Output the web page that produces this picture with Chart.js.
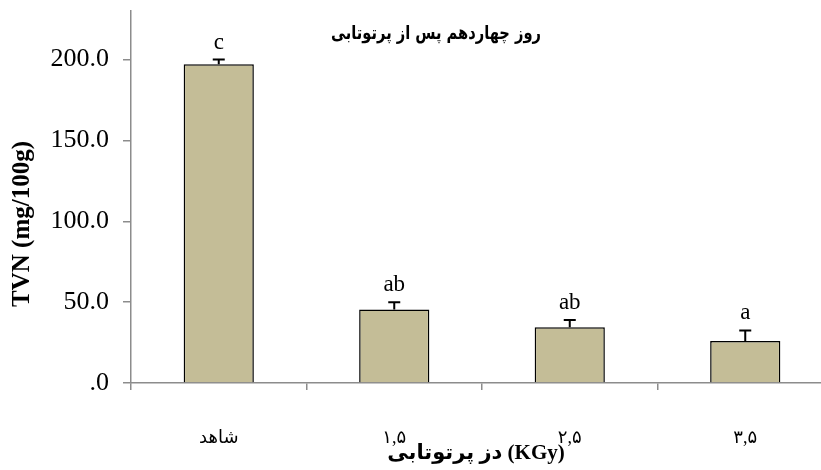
<!DOCTYPE html>
<html>
<head>
<meta charset="utf-8">
<script src="https://cdn.jsdelivr.net/npm/chart.js@4"></script>
<style>
  html, body { margin: 0; padding: 0; background: #fff; overflow: hidden; }
  #wrap { width: 821px; height: 470px; overflow: hidden; }
  #box { width: 840px; height: 470px; }
</style>
</head>
<body>
<div id="wrap"><div id="box"><canvas id="chart"></canvas></div></div>
<script>
// TVN on day 14 after irradiation
const categories = ['شاهد', '۱,۵', '۲,۵', '۳,۵'];
const tvn = [197, 45.5, 34.5, 26];
const tvnErr = [3, 4.5, 4.5, 6.5];
const letters = ['c', 'ab', 'ab', 'a'];
const yTicks = [0, 50, 100, 150, 200];

const chartTitle = 'روز چهاردهم پس از پرتوتابی';
const xTitle = 'دز پرتوتابی (KGy)';
const yTitle = 'TVN (mg/100g)';

const SERIF = "'Liberation Serif', 'Times New Roman', 'DejaVu Sans', serif";
const AXIS_GREY = '#8c8c8c';

const extras = {
  id: 'extras',
  afterDatasetsDraw(chart) {
    const { ctx } = chart;
    const meta = chart.getDatasetMeta(0);
    const y = chart.scales.y;
    ctx.save();
    // error bars (plus side only) and significance letters
    ctx.strokeStyle = '#000';
    ctx.lineWidth = 2;
    ctx.fillStyle = '#000';
    ctx.textAlign = 'center';
    ctx.textBaseline = 'alphabetic';
    ctx.font = '23px ' + SERIF;
    meta.data.forEach((bar, i) => {
      const top = y.getPixelForValue(tvn[i] + tvnErr[i]);
      ctx.beginPath();
      ctx.moveTo(bar.x, bar.y);
      ctx.lineTo(bar.x, top);
      ctx.moveTo(bar.x - 6, top);
      ctx.lineTo(bar.x + 6, top);
      ctx.stroke();
      ctx.fillText(letters[i], bar.x, top - 11);
    });

    // chart title, squeezed a little to match the narrower original face
    ctx.font = "bold 19px 'DejaVu Sans', sans-serif";
    ctx.textBaseline = 'middle';
    const w = ctx.measureText(chartTitle).width;
    ctx.save();
    ctx.translate(436, 34);
    ctx.scale(Math.min(1, 210 / w), 1);
    ctx.fillText(chartTitle, 0, 0);
    ctx.restore();

    // x axis title
    ctx.font = 'bold 21px ' + SERIF;
    ctx.fillText(xTitle, 476, 454);

    // y axis title
    ctx.translate(23, 224);
    ctx.rotate(-Math.PI / 2);
    ctx.font = 'bold 25px ' + SERIF;
    ctx.fillText(yTitle, 0, 0);
    ctx.restore();
  },
};

new Chart(document.getElementById('chart'), {
  type: 'bar',
  data: {
    labels: categories,
    datasets: [{
      data: tvn,
      backgroundColor: '#c4bd97',
      borderColor: '#000',
      borderWidth: 1.5,
      borderSkipped: 'bottom',
      barPercentage: 0.4,
      categoryPercentage: 1,
    }],
  },
  options: {
    responsive: true,
    maintainAspectRatio: false,
    animation: false,
    layout: { padding: { top: 11, right: 7, left: 0, bottom: 0 } },
    plugins: {
      legend: { display: false },
      tooltip: { enabled: false },
      title: { display: false },
    },
    scales: {
      x: {
        offset: true,
        grid: {
          offset: true,
          drawOnChartArea: false,
          drawTicks: true,
          tickLength: 7,
          color: AXIS_GREY,
          lineWidth: 1.5,
        },
        border: { color: AXIS_GREY, width: 1.5 },
        ticks: {
          color: '#000',
          padding: 37,
          font: { family: SERIF, size: 18 },
        },
        afterFit(scale) { scale.height = 87; },
      },
      y: {
        min: 0,
        max: 230,
        afterBuildTicks(scale) {
          scale.ticks = yTicks.map((v) => ({ value: v }));
        },
        grid: {
          drawOnChartArea: false,
          drawTicks: true,
          tickLength: 8,
          color: AXIS_GREY,
          lineWidth: 1.5,
        },
        border: { color: AXIS_GREY, width: 1.5 },
        ticks: {
          color: '#000',
          padding: 14,
          font: { family: SERIF, size: 26 },
          callback: (v) => (v === 0 ? '.0' : v.toFixed(1)),
        },
        afterFit(scale) {
          scale.width = 131;
          scale.paddingTop = 0;
          scale.paddingBottom = 0;
        },
      },
    },
  },
  plugins: [extras],
});
</script>
</body>
</html>
